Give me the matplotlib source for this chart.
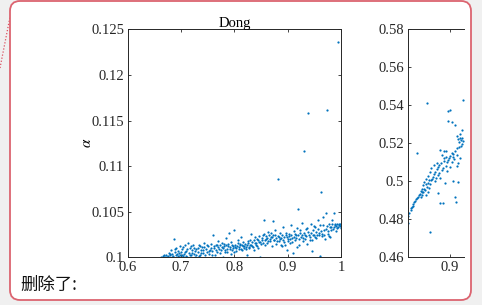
"""Word-comment screenshot: Dong alpha scatter plus a clipped second panel."""
import matplotlib
matplotlib.use("Agg")
import matplotlib.pyplot as plt
from matplotlib.patches import FancyBboxPatch
from matplotlib.lines import Line2D

plt.rcParams["font.family"] = ["Liberation Serif", "DejaVu Serif"]
plt.rcParams["mathtext.fontset"] = "stix"

BLUE = "#0072BD"
AX_COL = "#262626"

# left panel: Dong, x vs alpha
dong_x = [
    0.662, 0.666, 0.670, 0.672, 0.675, 0.677, 0.679, 0.681, 0.683, 0.684,
    0.686, 0.688, 0.690, 0.691, 0.693, 0.695, 0.696, 0.698, 0.699, 0.700,
    0.702, 0.704, 0.706, 0.708, 0.710, 0.711, 0.713, 0.715, 0.717, 0.719,
    0.721, 0.723, 0.725, 0.727, 0.729, 0.731, 0.733, 0.735, 0.737, 0.739,
    0.741, 0.743, 0.745, 0.747, 0.749, 0.751, 0.753, 0.755, 0.757, 0.759,
    0.760, 0.762, 0.764, 0.766, 0.768, 0.770, 0.772, 0.774, 0.776, 0.778,
    0.780, 0.782, 0.784, 0.786, 0.788, 0.790, 0.792, 0.794, 0.796, 0.798,
    0.800, 0.802, 0.804, 0.806, 0.808, 0.810, 0.812, 0.814, 0.816, 0.818,
    0.820, 0.822, 0.824, 0.826, 0.828, 0.830, 0.832, 0.834, 0.836, 0.838,
    0.840, 0.842, 0.844, 0.846, 0.848, 0.850, 0.852, 0.854, 0.856, 0.858,
    0.860, 0.862, 0.864, 0.866, 0.868, 0.870, 0.872, 0.873, 0.875, 0.877,
    0.879, 0.881, 0.882, 0.884, 0.886, 0.888, 0.890, 0.892, 0.894, 0.896,
    0.898, 0.900, 0.902, 0.904, 0.906, 0.908, 0.910, 0.912, 0.914, 0.916,
    0.918, 0.920, 0.921, 0.923, 0.925, 0.927, 0.929, 0.931, 0.932, 0.934,
    0.936, 0.938, 0.939, 0.941, 0.943, 0.945, 0.946, 0.948, 0.950, 0.952,
    0.954, 0.956, 0.958, 0.960, 0.961, 0.963, 0.964, 0.966, 0.968, 0.970,
    0.971, 0.973, 0.974, 0.976, 0.978, 0.980, 0.982, 0.984, 0.986, 0.988,
    0.990, 0.992, 0.994, 0.995, 0.997, 0.999, 1.000,
]
dong_alpha = [
    0.1000, 0.1001, 0.1000, 0.1003, 0.1001, 0.1005, 0.1002, 0.1008, 0.1000, 0.1004,
    0.1020, 0.1006, 0.1002, 0.1010, 0.1004, 0.1007, 0.1000, 0.1012, 0.1003, 0.1006,
    0.1009, 0.1001, 0.1004, 0.1013, 0.1007, 0.1000, 0.1016, 0.1005, 0.1010, 0.1002,
    0.1008, 0.1013, 0.1004, 0.1000, 0.1009, 0.1006, 0.1014, 0.1003, 0.1008, 0.1011,
    0.1005, 0.1016, 0.1002, 0.1009, 0.1006, 0.1012, 0.1004, 0.1008, 0.1015, 0.1007,
    0.1024, 0.1010, 0.1003, 0.1013, 0.1006, 0.1018, 0.1009, 0.1005, 0.1011, 0.1000,
    0.1015, 0.1008, 0.1021, 0.1006, 0.1012, 0.1027, 0.1009, 0.1004, 0.1014, 0.1010,
    0.1030, 0.1011, 0.1007, 0.1016, 0.1009, 0.1013, 0.1022, 0.1008, 0.1012, 0.1010,
    0.1015, 0.1009, 0.1002, 0.1018, 0.1011, 0.1014, 0.1026, 0.1012, 0.1008, 0.1016,
    0.1013, 0.1020, 0.1010, 0.1017, 0.1000, 0.1015, 0.1019, 0.1024, 0.1041, 0.1013,
    0.1020, 0.1016, 0.1028, 0.1018, 0.1022, 0.1012, 0.1040, 0.1025, 0.1019, 0.1030,
    0.1015, 0.1023, 0.1086, 0.1018, 0.1027, 0.1021, 0.1012, 0.1033, 0.1017, 0.1024,
    0.1008, 0.1020, 0.1026, 0.1016, 0.1035, 0.1021, 0.1005, 0.1029, 0.1019, 0.1024,
    0.1032, 0.1053, 0.1014, 0.1027, 0.1022, 0.1038, 0.1018, 0.1117, 0.1025, 0.1031,
    0.1015, 0.1158, 0.1028, 0.1022, 0.1036, 0.1019, 0.1007, 0.1030, 0.1025, 0.1033,
    0.1021, 0.1041, 0.1027, 0.1001, 0.1035, 0.1072, 0.1023, 0.1044, 0.1030, 0.1020,
    0.1049, 0.1162, 0.1034, 0.1026, 0.1037, 0.1022, 0.1033, 0.1041, 0.1049, 0.1035,
    0.1029, 0.1036, 0.1236, 0.1033, 0.1037, 0.1034, 0.1032,
]
# the denser part of the band
dong_x_dense = [
    0.668, 0.674, 0.680, 0.685, 0.689, 0.694, 0.697, 0.701, 0.703, 0.707,
    0.709, 0.712, 0.716, 0.718, 0.720, 0.724, 0.726, 0.728, 0.732, 0.734,
    0.736, 0.738, 0.742, 0.744, 0.748, 0.752, 0.756, 0.758, 0.761, 0.765,
    0.767, 0.769, 0.773, 0.775, 0.777, 0.779, 0.781, 0.783, 0.785, 0.787,
    0.789, 0.791, 0.793, 0.795, 0.797, 0.799, 0.801, 0.803, 0.805, 0.807,
    0.809, 0.811, 0.813, 0.815, 0.817, 0.819, 0.821, 0.823, 0.825, 0.827,
    0.829, 0.831, 0.833, 0.835, 0.837, 0.839, 0.841, 0.843, 0.845, 0.847,
    0.849, 0.851, 0.853, 0.855, 0.857, 0.859, 0.861, 0.863, 0.865, 0.867,
    0.869, 0.871, 0.874, 0.876, 0.878, 0.880, 0.883, 0.885, 0.887, 0.889,
    0.891, 0.893, 0.895, 0.897, 0.899, 0.901, 0.903, 0.905, 0.907, 0.909,
    0.911, 0.913, 0.915, 0.917, 0.919, 0.922, 0.924, 0.926, 0.928, 0.930,
    0.933, 0.935, 0.937, 0.940, 0.942, 0.944, 0.947, 0.949, 0.951, 0.953,
    0.955, 0.957, 0.959, 0.962, 0.965, 0.967, 0.969, 0.972, 0.975, 0.977,
    0.979, 0.981, 0.983, 0.985, 0.987, 0.989, 0.991, 0.993, 0.996, 0.998,
]
dong_alpha_dense = [
    0.1002, 0.1000, 0.1004, 0.1001, 0.1009, 0.1001, 0.1005, 0.1002, 0.1011, 0.1006,
    0.1001, 0.1009, 0.1003, 0.1012, 0.1005, 0.1010, 0.1007, 0.1002, 0.1010, 0.1001,
    0.1012, 0.1005, 0.1008, 0.1011, 0.1013, 0.1007, 0.1010, 0.1002, 0.1012, 0.1008,
    0.1014, 0.1011, 0.1013, 0.1008, 0.1016, 0.1010, 0.1012, 0.1006, 0.1013, 0.1009,
    0.1015, 0.1011, 0.1017, 0.1008, 0.1012, 0.1006, 0.1014, 0.1010, 0.1012, 0.1019,
    0.1011, 0.1015, 0.1009, 0.1014, 0.1017, 0.1012, 0.1011, 0.1014, 0.1016, 0.1010,
    0.1019, 0.1013, 0.1017, 0.1011, 0.1019, 0.1022, 0.1016, 0.1012, 0.1019, 0.1023,
    0.1017, 0.1021, 0.1016, 0.1026, 0.1019, 0.1023, 0.1021, 0.1018, 0.1025, 0.1020,
    0.1027, 0.1022, 0.1019, 0.1024, 0.1021, 0.1018, 0.1022, 0.1020, 0.1014, 0.1025,
    0.1019, 0.1022, 0.1013, 0.1027, 0.1022, 0.1018, 0.1023, 0.1020, 0.1025, 0.1017,
    0.1022, 0.1026, 0.1021, 0.1011, 0.1024, 0.1020, 0.1030, 0.1024, 0.1021, 0.1027,
    0.1020, 0.1023, 0.1032, 0.1024, 0.1019, 0.1027, 0.1024, 0.1034, 0.1022, 0.1028,
    0.1025, 0.1031, 0.1024, 0.1029, 0.1026, 0.1035, 0.1024, 0.1031, 0.1029, 0.1023,
    0.1033, 0.1030, 0.1036, 0.1031, 0.1033, 0.1037, 0.1034, 0.1032, 0.1035, 0.1036,
]

# right panel (cut off by the comment box)
right_x = [
    0.8575, 0.925, 0.896, 0.899, 0.897, 0.903, 0.909, 0.922, 0.912, 0.915,
    0.918, 0.920, 0.916, 0.922, 0.919, 0.924, 0.881, 0.888, 0.893, 0.8375,
    0.885, 0.892, 0.900, 0.906, 0.912, 0.919, 0.908, 0.896, 0.888, 0.903,
    0.914, 0.876, 0.870, 0.880, 0.893, 0.900, 0.912, 0.865, 0.875, 0.885,
    0.895, 0.862, 0.870, 0.878, 0.868, 0.858, 0.874, 0.882, 0.855, 0.864,
    0.872, 0.852, 0.858, 0.862, 0.850, 0.856, 0.860, 0.848, 0.853, 0.845,
    0.850, 0.858, 0.843, 0.848, 0.855, 0.840, 0.846, 0.891, 0.906, 0.914,
    0.878, 0.881, 0.886, 0.909, 0.911, 0.836, 0.833, 0.830, 0.828, 0.826,
    0.824, 0.822, 0.821, 0.8625, 0.866, 0.871, 0.877, 0.883, 0.889, 0.894,
    0.898, 0.904, 0.910, 0.917, 0.921, 0.923, 0.913, 0.905, 0.887, 0.880,
    0.860, 0.854, 0.851, 0.847, 0.842, 0.838, 0.834, 0.831, 0.827,
]
right_y = [
    0.5414, 0.5428, 0.5370, 0.5375, 0.5319, 0.5312, 0.5297, 0.5270, 0.5240, 0.5225,
    0.5230, 0.5215, 0.5205, 0.5195, 0.5250, 0.5210, 0.5166, 0.5160, 0.5158, 0.5150,
    0.5140, 0.5130, 0.5135, 0.5145, 0.5138, 0.5120, 0.5118, 0.5112, 0.5105, 0.5100,
    0.5095, 0.5098, 0.5088, 0.5085, 0.5082, 0.5075, 0.5080, 0.5070, 0.5065, 0.5060,
    0.5055, 0.5048, 0.5040, 0.5035, 0.5025, 0.5030, 0.5020, 0.5015, 0.5012, 0.5005,
    0.5002, 0.4995, 0.4990, 0.4985, 0.4978, 0.4970, 0.4965, 0.4960, 0.4955, 0.4950,
    0.4943, 0.4945, 0.4935, 0.4930, 0.4928, 0.4920, 0.4915, 0.4992, 0.5000, 0.4995,
    0.4937, 0.4884, 0.4888, 0.4920, 0.4890, 0.4905, 0.4890, 0.4880, 0.4865, 0.4850,
    0.4835, 0.4820, 0.4780, 0.4735, 0.5010, 0.5050, 0.5075, 0.5095, 0.5120, 0.5100,
    0.5125, 0.5150, 0.5160, 0.5180, 0.5185, 0.5230, 0.5175, 0.5128, 0.5072, 0.5045,
    0.5008, 0.4985, 0.4962, 0.4945, 0.4928, 0.4912, 0.4898, 0.4872, 0.4858,
]

left_xticks = [0.6, 0.7, 0.8, 0.9, 1.0]
left_xlabels = ["0.6", "0.7", "0.8", "0.9", "1"]
left_yticks = [0.1, 0.105, 0.11, 0.115, 0.12, 0.125]
left_ylabels = ["0.1", "0.105", "0.11", "0.115", "0.12", "0.125"]
right_yticks = [0.46, 0.48, 0.5, 0.52, 0.54, 0.56, 0.58]
right_ylabels = ["0.46", "0.48", "0.5", "0.52", "0.54", "0.56", "0.58"]

W, H = 482, 305
fig = plt.figure(figsize=(W / 100, H / 100), dpi=100)
fig.patch.set_facecolor("#f0f0f0")

# comment box, drawn underneath the axes
box = FancyBboxPatch((0.10, 0.05), 4.61, 2.99, boxstyle="round,pad=0,rounding_size=0.1",
                     transform=fig.dpi_scale_trans, facecolor="white",
                     edgecolor="#dc6470", linewidth=1.3, zorder=-10)
fig.patches.append(box)
fig.lines.append(Line2D([0.0, 0.10], [2.37, 2.88], transform=fig.dpi_scale_trans,
                        color="#dc5060", linestyle=(0, (1, 1.5)), linewidth=0.9,
                        zorder=-10))


def fig_rect(x0, y0, x1, y1):
    return [x0 / W, (H - y1) / H, (x1 - x0) / W, (y1 - y0) / H]


def style(ax):
    ax.set_facecolor("white")
    for s in ax.spines.values():
        s.set_color(AX_COL)
        s.set_linewidth(0.7)
    ax.tick_params(direction="in", length=2.5, width=0.6, color=AX_COL,
                   labelsize=10.5, labelcolor="#262626", pad=2.5)


dot = dict(linestyle="none", marker=".", color=BLUE, markersize=3.2, markeredgewidth=0)

ax1 = fig.add_axes(fig_rect(127.7, 29.3, 341, 257.3))
style(ax1)
ax1.plot(dong_x, dong_alpha, **dot)
ax1.plot(dong_x_dense, dong_alpha_dense, **dot)
ax1.set_xlim(0.6, 1.0)
ax1.set_ylim(0.1, 0.125)
ax1.set_xticks(left_xticks, left_xlabels)
ax1.set_yticks(left_yticks, left_ylabels)
ax1.tick_params(top=True, right=True)
ax1.set_title("Dong", fontsize=10.5, pad=1.5)
ax1.set_ylabel(r"$\alpha$", fontsize=11, labelpad=-2)

ax2 = fig.add_axes(fig_rect(407.7, 29.3, 464, 257.3))
style(ax2)
ax2.plot(right_x, right_y, **dot)
ax2.set_xlim(0.8207, 0.926)
ax2.set_ylim(0.46, 0.58)
ax2.set_xticks([0.9], ["0.9"])
ax2.set_yticks(right_yticks, right_ylabels)
ax2.tick_params(top=True, right=False)
ax2.spines["right"].set_visible(False)

fig.text(20 / W, (H - 285) / H, "删除了:", fontsize=12.5, va="center", ha="left",
         family=["Noto Sans CJK SC", "DejaVu Sans"], color="#111111")

fig.savefig("out.png", dpi=100, facecolor=fig.get_facecolor())
